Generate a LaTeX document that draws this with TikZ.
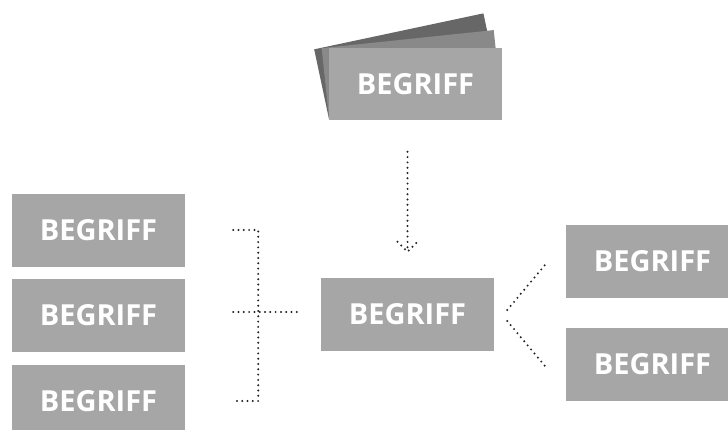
\documentclass[tikz,border=0pt]{standalone}
\usepackage{fontspec}
\setmainfont{Open Sans}
\usetikzlibrary{calc}
\definecolor{boxgray}{HTML}{A6A6A6}
\definecolor{midgray}{HTML}{898989}
\definecolor{darkgray2}{HTML}{676767}
\definecolor{dotcol}{HTML}{222222}
\tikzset{
  box/.style={fill=boxgray, draw=none, minimum width=173pt, minimum height=73pt, inner sep=0pt,
    text=white, font=\fontsize{29}{34}\selectfont\bfseries},
  card/.style={draw=none, minimum width=173pt, minimum height=72pt, inner sep=0pt},
  dotline/.style={draw=dotcol, line width=2.2pt, line cap=round, dash pattern=on 0pt off 5.3pt}
}
\begin{document}
\begin{tikzpicture}[x=1pt,y=-1pt]
\useasboundingbox (0,0) rectangle (728,430);
% stacked cards
\node[card, fill=darkgray2, rotate=12, anchor=south west] (Tb2) at (329,120) {};
\node[card, fill=midgray, rotate=6, anchor=south west] (Tb1) at (329,120) {};
\node[box, minimum height=72pt] (T) at (415.5,84) {BEGRIFF};
% left
\node[box] (L1) at (98.5,230.5) {BEGRIFF};
\node[box] (L2) at (98.5,315.5) {BEGRIFF};
\node[box] (L3) at (98.5,401.5) {BEGRIFF};
% center
\node[box] (C) at (407.5,314.5) {BEGRIFF};
% right
\node[box] (R1) at (652.5,261.5) {BEGRIFF};
\node[box] (R2) at (652.5,364.5) {BEGRIFF};
% down arrow
\coordinate (a1) at ($(C.north)+(0,-126)$);
\coordinate (a2) at ($(C.north)+(0,-26)$);
\draw[dotline] (a1) -- (a2);
\draw[dotline] ($(a2)+(-10,-10)$) -- (a2) -- ($(a2)+(10,-10)$);
% bracket
\coordinate (b1) at ($(L1.east)+(48,-0.5)$);
\coordinate (b1e) at ($(L1.east)+(73,-0.5)$);
\coordinate (b3) at ($(L3.east)+(48,-0.5)$);
\coordinate (b3e) at ($(L3.east)+(73,-0.5)$);
\coordinate (b2) at ($(L2.east)+(48,-3.5)$);
\coordinate (b2e) at ($(C.west)+(-24,-2.5)$);
\draw[dotline] (b1) -- (b1e) -- (b3e) -- (b3);
\draw[dotline] (b2) -- (b2e);
% fork right
\draw[dotline] ($(C.east)+(13,-4.5)$) -- ($(R1.west)+(-20,2.5)$);
\draw[dotline] ($(C.east)+(13,6.5)$) -- ($(R2.west)+(-20,2.5)$);
\end{tikzpicture}
\end{document}
